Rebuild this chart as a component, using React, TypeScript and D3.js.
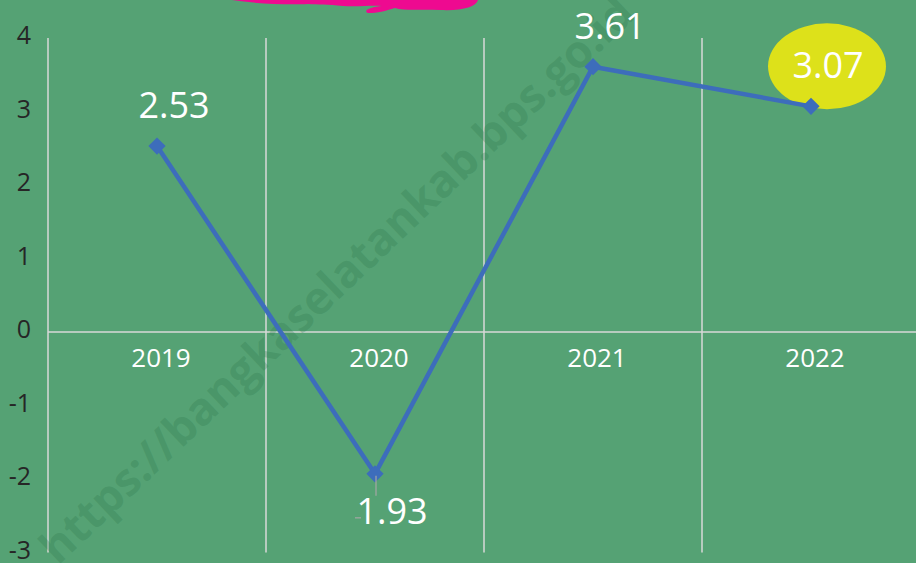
import React from "react";
import * as d3 from "d3";

const years = ["2019", "2020", "2021", "2022"];
const values = [2.53, -1.93, 3.61, 3.07];
const labels = ["2.53", "1.93", "3.61", "3.07"];
const yTicks = [-3, -2, -1, 0, 1, 2, 3, 4];
const watermark = "https://bangkaselatankab.bps.go.id";

const W = 916;
const H = 563;

export default function App() {
  const x = d3.scaleBand<string>().domain(years).range([48, 920]).padding(0);
  const y = d3.scaleLinear().domain([-3, 4]).range([552.5, 38]);
  const cx = (d: string) => (x(d) as number) + x.bandwidth() / 2;
  const pts: [number, number][] = years.map((d, i) => [cx(d), y(values[i])]);
  const line = d3.line<[number, number]>()(pts) as string;
  const diamond = d3.symbol().type(d3.symbolDiamond2).size(190)() as string;
  const font = "'Open Sans', 'Noto Sans', sans-serif";
  const bounds = years.map((d) => x(d) as number).concat([920]);

  return (
    <svg width={W} height={H} style={{ position: "absolute", left: 0, top: 0 }} fontFamily={font}>
      <rect width={W} height={H} fill="#55a274" />
      {/* pink scribble */}
      <path
        d="M232,0 L478,0 C476,7 462,11 440,10 C420,9 405,11 395,8 C385,11 378,13 368,13 C362,10 372,7 382,6 C372,5 358,7 343,6 C328,4 318,5 308,4 C288,5 258,4 232,0 Z"
        fill="#ee0a90"
      />
      {/* vertical gridlines */}
      {bounds.map((b, i) => (
        <line key={"v" + i} x1={b} x2={b} y1={y(4)} y2={y(-3)} stroke="#d9d9d9" strokeWidth={1.5} />
      ))}
      {/* zero line */}
      <line x1={48} x2={W} y1={y(0)} y2={y(0)} stroke="#d9d9d9" strokeWidth={1.5} />
      {/* y tick labels */}
      {yTicks.map((t) => (
        <text key={"y" + t} x={31} y={y(t) - 3} dy="0.36em" textAnchor="end" fontSize={25} fill="#262626">
          {t}
        </text>
      ))}
      {/* category labels */}
      {years.map((d) => (
        <text key={"c" + d} x={cx(d) + 4} y={y(0) + 35} textAnchor="middle" fontSize={26} fill="#ffffff">
          {d}
        </text>
      ))}
      {/* watermark */}
      <text
        transform="translate(58,566) rotate(-43.5)"
        fontSize={45}
        fontWeight="bold"
        fill="#2f7a4e"
        fillOpacity={0.3}
        fontFamily="'Open Sans', 'Noto Sans', sans-serif"
      >
        {watermark}
      </text>
      {/* highlight ellipse */}
      <ellipse cx={827} cy={y(3.07) - 40} rx={59} ry={43} fill="#dde11a" />
      {/* series line */}
      <path d={line} fill="none" stroke="#3d6dbb" strokeWidth={4.5} strokeLinejoin="round" />
      {pts.map((p, i) => (
        <path key={"m" + i} d={diamond} transform={`translate(${p[0]},${p[1]})`} fill="#3d6dbb" />
      ))}
      {/* data labels */}
      {pts.map((p, i) => {
        const below = values[i] < 0;
        return (
          <text
            key={"l" + i}
            x={p[0] + 17}
            y={below ? p[1] + 50 : p[1] - 28}
            textAnchor="middle"
            fontSize={36}
            fill="#ffffff"
          >
            {labels[i]}
          </text>
        );
      })}
      {/* small grey dash artifacts by negative label */}
      <line x1={pts[1][0] + 1} x2={pts[1][0] + 1} y1={pts[1][1] + 2} y2={pts[1][1] + 22} stroke="#a6a6a6" strokeWidth={1.2} />
      <line x1={pts[1][0] - 20} x2={pts[1][0] - 14} y1={pts[1][1] + 44} y2={pts[1][1] + 44} stroke="#a6a6a6" strokeWidth={1.2} />
    </svg>
  );
}
